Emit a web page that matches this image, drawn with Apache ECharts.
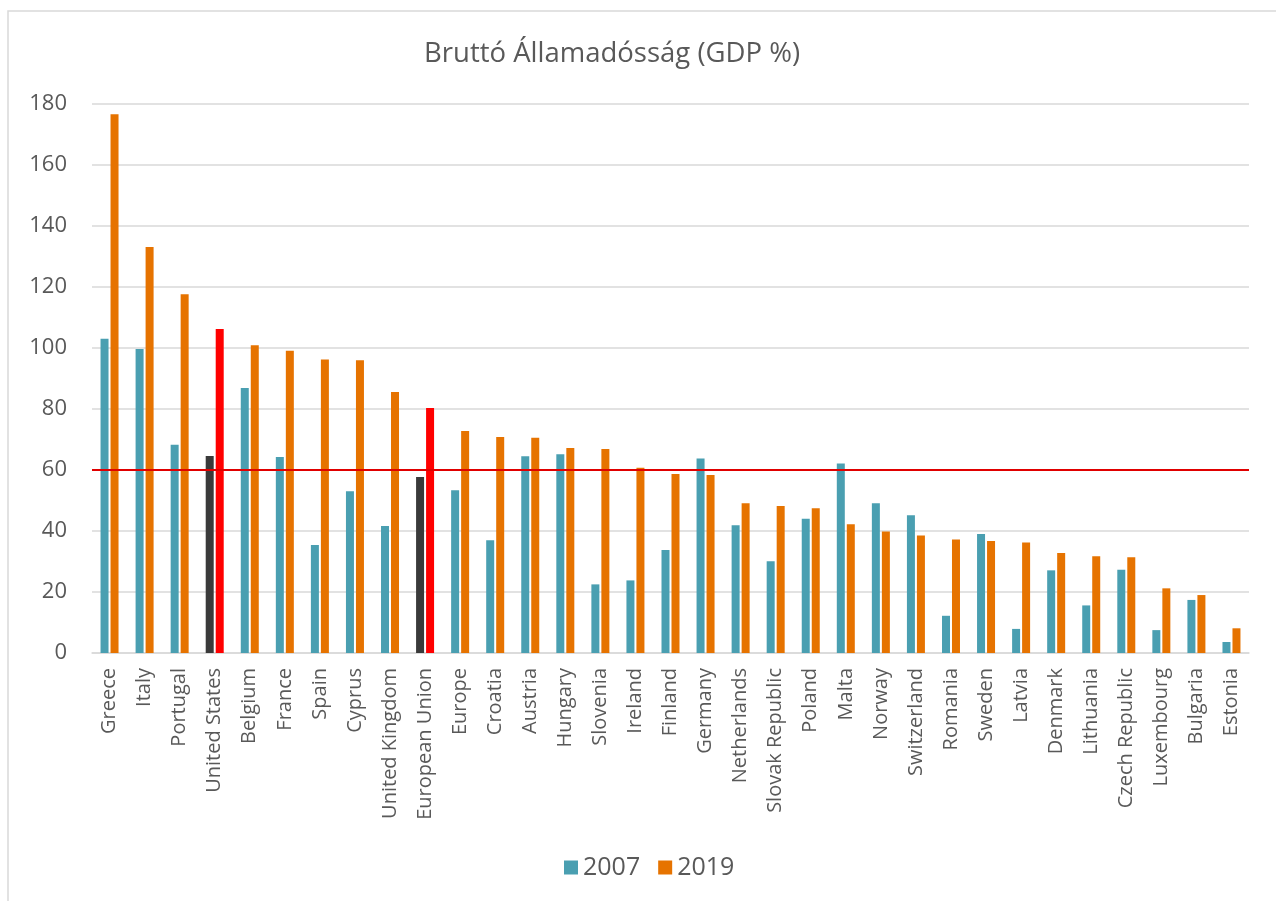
<!DOCTYPE html>
<html>
<head>
<meta charset="utf-8">
<title>Bruttó Államadósság (GDP %)</title>
<script src="https://cdn.jsdelivr.net/npm/echarts@6/dist/echarts.min.js"></script>
<style>
  html, body { margin: 0; padding: 0; background: #fff; }
  #chart { width: 1276px; height: 901px; }
</style>
</head>
<body>
<div id="chart"></div>
<script>
// categories, sorted as in the source chart
const countries = [
  'Greece', 'Italy', 'Portugal', 'United States', 'Belgium', 'France', 'Spain',
  'Cyprus', 'United Kingdom', 'European Union', 'Europe', 'Croatia', 'Austria',
  'Hungary', 'Slovenia', 'Ireland', 'Finland', 'Germany', 'Netherlands',
  'Slovak Republic', 'Poland', 'Malta', 'Norway', 'Switzerland', 'Romania',
  'Sweden', 'Latvia', 'Denmark', 'Lithuania', 'Czech Republic', 'Luxembourg',
  'Bulgaria', 'Estonia'
]
const debt2007 = [
  103.0, 99.7, 68.3, 64.6, 86.9, 64.3, 35.4, 53.0, 41.6, 57.7, 53.4, 37.0, 64.5,
  65.2, 22.5, 23.8, 33.8, 63.8, 41.9, 30.1, 44.0, 62.1, 49.1, 45.2, 12.2,
  39.0, 7.9, 27.1, 15.6, 27.3, 7.5, 17.4, 3.6
]
const debt2019 = [
  176.6, 133.1, 117.6, 106.2, 100.9, 99.1, 96.2, 96.0, 85.6, 80.3, 72.8, 70.8, 70.6,
  67.2, 66.9, 60.7, 58.7, 58.4, 49.1, 48.2, 47.5, 42.2, 39.8, 38.5, 37.2,
  36.7, 36.2, 32.8, 31.7, 31.4, 21.2, 19.0, 8.1
]
const yTicks = [0, 20, 40, 60, 80, 100, 120, 140, 160, 180]
const threshold = 60
// non-European references get their own colours
const highlighted = ['United States', 'European Union']

const chart = echarts.init(document.getElementById('chart'))

const textColor = '#595959'
const font = '"Open Sans", sans-serif'

function paint(values, normal, special) {
  return values.map((v, i) => {
    if (highlighted.includes(countries[i])) {
      return { value: v, itemStyle: { color: special } }
    }
    return { value: v, itemStyle: { color: normal } }
  })
}

chart.setOption({
  animation: false,
  title: {
    text: 'Bruttó Államadósság (GDP %)',
    left: 607,
    top: 35,
    textAlign: 'center',
    textStyle: { color: textColor, fontFamily: font, fontSize: 27.5, fontWeight: 'normal' }
  },
  graphic: [{
    type: 'rect',
    shape: { x: 8, y: 11, width: 1400, height: 1000 },
    style: { fill: 'none', stroke: '#D9D9D9', lineWidth: 1.5 },
    silent: true,
    z: -10
  }],
  legend: {
    data: ['2007', '2019'],
    left: 559,
    top: 850,
    icon: 'rect',
    itemWidth: 14,
    itemHeight: 14,
    itemGap: 18,
    textStyle: { color: textColor, fontFamily: font, fontSize: 25 }
  },
  grid: { left: 92, right: 27, top: 104, bottom: 248 },
  xAxis: {
    type: 'category',
    data: countries,
    axisLine: { lineStyle: { color: '#D9D9D9', width: 1.5 } },
    axisTick: { show: false },
    axisLabel: {
      rotate: 90,
      interval: 0,
      margin: 15,
      color: textColor,
      fontFamily: font,
      fontSize: 20
    }
  },
  yAxis: {
    type: 'value',
    min: yTicks[0],
    max: yTicks[yTicks.length - 1],
    interval: 20,
    axisLine: { show: false },
    axisTick: { show: false },
    axisLabel: { color: textColor, fontFamily: font, fontSize: 22, margin: 25 },
    splitLine: { lineStyle: { color: '#D9D9D9', width: 1.5 } }
  },
  series: [
    {
      name: '2007',
      type: 'bar',
      barWidth: 8,
      barGap: '25%',
      itemStyle: { color: '#4A9FB1' },
      data: paint(debt2007, '#4A9FB1', '#3A3A3A'),
      markLine: {
        silent: true,
        symbol: 'none',
        label: { show: false },
        lineStyle: { color: '#E00000', width: 2, type: 'solid' },
        data: [{ yAxis: threshold }]
      }
    },
    {
      name: '2019',
      type: 'bar',
      barWidth: 8,
      barGap: '25%',
      itemStyle: { color: '#E67300' },
      data: paint(debt2019, '#E67300', '#FF0000')
    }
  ]
})
</script>
</body>
</html>
